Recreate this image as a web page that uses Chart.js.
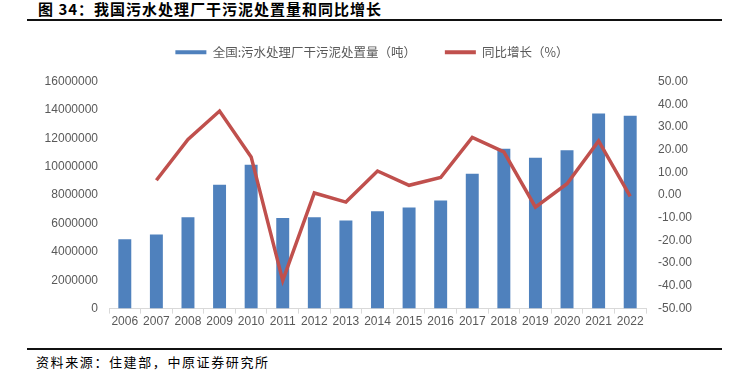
<!DOCTYPE html>
<html lang="zh-CN">
  <head>
    <meta charset="UTF-8">
    <title>我国污水处理厂干污泥处置量和同比增长</title>
    <script src="https://cdn.jsdelivr.net/npm/chart.js"></script>
    <style>
      body {
        margin: 0;
        width: 744px;
        height: 378px;
        position: relative;
        background: #fff;
        font-family: "Noto Sans CJK SC", sans-serif;
        overflow: hidden;
      }

      .title {
        position: absolute;
        left: 38px;
        top: -2px;
        font-size: 15px;
        font-weight: bold;
        letter-spacing: 1px;
        color: #000;
      }

      .rule {
        position: absolute;
        left: 27px;
        width: 695px;
        height: 2px;
        background: #111;
      }

      .source {
        position: absolute;
        left: 36px;
        top: 352px;
        font-size: 13px;
        color: #000;
        letter-spacing: 1.6px;
      }

      .chart-box {
        position: absolute;
        left: 0;
        top: 30px;
        width: 744px;
        height: 310px;
      }
    </style>
  </head>
  <body>
    <div class="title">图 34：我国污水处理厂干污泥处置量和同比增长</div>
    <div class="rule" style="top: 19px;"></div>
    <div class="chart-box">
      <canvas id="sludgeChart"></canvas>
    </div>
    <div class="rule" style="top: 348px;"></div>
    <div class="source">资料来源：住建部，中原证券研究所</div>
    <script>
      // data
      const years = ['2006', '2007', '2008', '2009', '2010', '2011', '2012', '2013', '2014',
        '2015', '2016', '2017', '2018', '2019', '2020', '2021', '2022'];
      const sludgeTons = [4890000, 5220000, 6430000, 8730000, 10130000, 6380000, 6430000, 6200000, 6850000,
        7130000, 7620000, 9500000, 11270000, 10620000, 11160000, 13740000, 13580000];
      const growthPct = [null, 6.5, 24.5, 37.0, 16.8, -37.7, 0.9, -3.1, 10.6,
        4.3, 7.7, 25.4, 19.0, -5.3, 5.0, 23.8, -0.6];
      const barLabel = '全国:污水处理厂干污泥处置量（吨）';
      const lineLabel = '同比增长（%）';

      const blue = '#4F81BD';
      const red = '#C0504D';
      const grey = '#595959';
      const tickFont = { family: 'Arial, "Liberation Sans", sans-serif', size: 12 };

      // push the plot a bit lower under the legend
      const legendGap = {
        id: 'legendGap',
        beforeInit(chart) {
          const fit = chart.legend.fit;
          chart.legend.fit = function () {
            fit.bind(chart.legend)();
            this.height += 13;
          };
        }
      };

      const ctx = document.getElementById('sludgeChart').getContext('2d');
      new Chart(ctx, {
        data: {
          labels: years,
          datasets: [{
            type: 'line',
            label: lineLabel,
            data: growthPct,
            yAxisID: 'y1',
            borderColor: red,
            backgroundColor: red,
            borderWidth: 3.5,
            pointRadius: 0,
            tension: 0,
            order: 0
          }, {
            type: 'bar',
            label: barLabel,
            data: sludgeTons,
            yAxisID: 'y',
            backgroundColor: blue,
            borderWidth: 0,
            barPercentage: 0.41,
            categoryPercentage: 1,
            order: 1
          }]
        },
        options: {
          responsive: true,
          maintainAspectRatio: false,
          animation: false,
          layout: {
            padding: { top: 6, right: 38, bottom: 10, left: 38 }
          },
          plugins: {
            tooltip: { enabled: false },
            legend: {
              position: 'top',
              reverse: true,
              labels: {
                boxWidth: 31,
                boxHeight: 4,
                padding: 10,
                color: grey,
                font: { family: '"Noto Sans CJK SC", sans-serif', size: 12.5 },
                generateLabels(chart) {
                  const items = Chart.defaults.plugins.legend.labels.generateLabels(chart);
                  items.forEach(item => {
                    item.lineWidth = 0;
                    if (item.text === barLabel) item.text = barLabel + '　　';
                  });
                  return items;
                }
              }
            }
          },
          scales: {
            x: {
              offset: true,
              grid: {
                offset: true,
                drawOnChartArea: false,
                drawTicks: true,
                tickLength: 5,
                color: '#D9D9D9'
              },
              border: { color: '#D9D9D9', width: 1 },
              ticks: {
                color: grey,
                font: tickFont,
                padding: 1,
                maxRotation: 0,
                autoSkip: false
              }
            },
            y: {
              position: 'left',
              min: 0,
              max: 16000000,
              grid: { display: false, drawTicks: false },
              border: { display: false },
              afterFit(scale) { scale.width = 71; },
              ticks: {
                stepSize: 2000000,
                color: grey,
                font: tickFont,
                padding: 11,
                callback: v => String(v)
              }
            },
            y1: {
              position: 'right',
              min: -50,
              max: 50,
              grid: { display: false, drawTicks: false },
              border: { display: false },
              afterFit(scale) { scale.width = 60; },
              ticks: {
                stepSize: 10,
                color: grey,
                font: tickFont,
                padding: 12,
                callback: v => v.toFixed(2)
              }
            }
          }
        },
        plugins: [legendGap]
      });
    </script>
  </body>
</html>
